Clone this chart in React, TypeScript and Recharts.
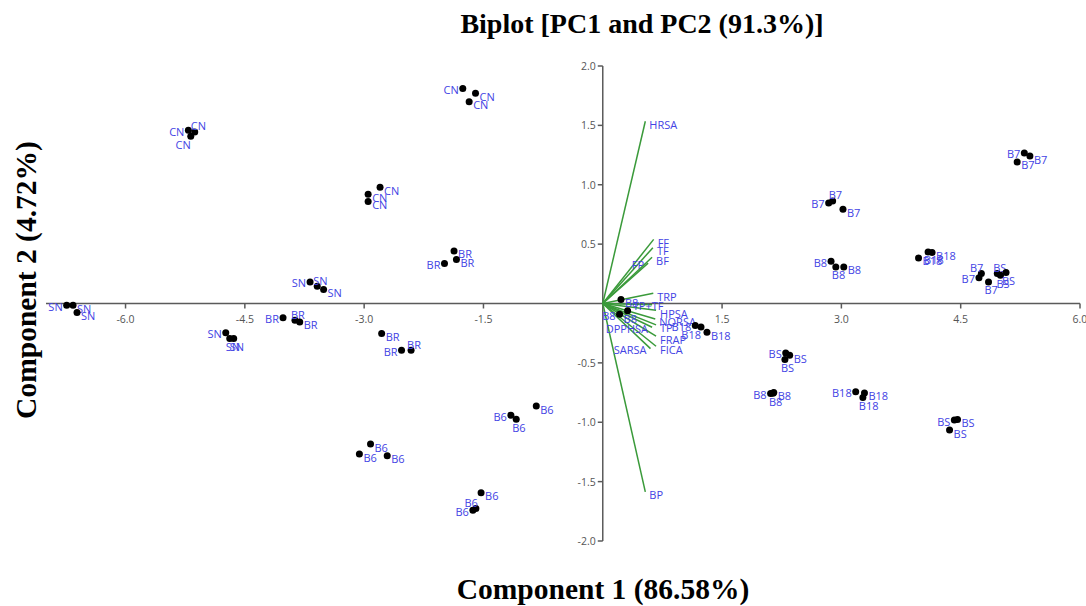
import { ScatterChart, Scatter, XAxis, YAxis, ReferenceLine } from "recharts"

// sample scores (PC1, PC2), three replicates per cluster
const SN = [[-6.74, -0.014], [-6.66, -0.014], [-6.61, -0.076], [-3.68, 0.182], [-3.59, 0.146], [-3.51, 0.118], [-4.74, -0.247], [-4.69, -0.295], [-4.64, -0.295]]
const CN = [[-5.21, 1.459], [-5.13, 1.445], [-5.18, 1.409], [-1.76, 1.81], [-1.6, 1.77], [-1.68, 1.7], [-2.8, 0.98], [-2.95, 0.92], [-2.95, 0.86]]
const BR = [[-4.02, -0.121], [-3.87, -0.141], [-3.81, -0.155], [-1.87, 0.443], [-1.99, 0.337], [-1.84, 0.37], [-2.78, -0.253], [-2.53, -0.393], [-2.41, -0.393]]
const B6 = [[-2.92, -1.184], [-3.06, -1.268], [-2.71, -1.283], [-1.155, -0.94], [-1.088, -0.974], [-0.836, -0.864], [-1.53, -1.594], [-1.595, -1.726], [-1.633, -1.74]]
const B7 = [[5.3, 1.268], [5.37, 1.242], [5.21, 1.192], [2.89, 0.864], [2.84, 0.847], [3.02, 0.794], [4.76, 0.253], [4.73, 0.216], [4.85, 0.182]]
const B8 = [[0.229, 0.034], [0.312, -0.062], [0.211, -0.09], [2.87, 0.356], [2.93, 0.308], [3.03, 0.308], [2.11, -0.758], [2.15, -0.749], [2.14, -0.755]]
const B18 = [[1.163, -0.185], [1.235, -0.197], [1.31, -0.242], [3.97, 0.384], [4.09, 0.434], [4.14, 0.429], [3.18, -0.744], [3.29, -0.753], [3.27, -0.791]]
const BS = [[4.96, 0.253], [5.0, 0.238], [5.07, 0.261], [2.3, -0.416], [2.35, -0.435], [2.29, -0.471], [4.42, -0.982], [4.46, -0.976], [4.36, -1.066]]

// which side of the dot the label sits on
const snSides = ["l", "r", "r", "l", "a", "r", "l", "b", "b"]
const cnSides = ["l", "a", "bl", "l", "r", "r", "r", "r", "r"]
const brSides = ["l", "a", "r", "r", "l", "r", "r", "l", "a"]
const b6Sides = ["r", "r", "r", "l", "b", "r", "r", "al", "l"]
const b7Sides = ["l", "r", "r", "a", "l", "r", "al", "l", "b"]
const b8Sides = ["r", "b", "l", "l", "b", "r", "l", "r", "b"]
const b18Sides = ["l", "bl", "r", "r", "b", "r", "l", "r", "b"]
const bsSides = ["a", "b", "b", "l", "r", "b", "l", "r", "r"]

// loading vectors
const loadingNames = ["HRSA", "FF", "TF", "BF", "FP", "TRP", "TP+TF", "HPSA", "NORSA", "TP", "FRAP", "FICA", "DPPHSA", "SARSA", "BP"]
const loadingX = [0.535, 0.64, 0.63, 0.62, 0.57, 0.635, 0.62, 0.67, 0.66, 0.67, 0.67, 0.67, 0.62, 0.6, 0.535]
const loadingY = [1.535, 0.54, 0.47, 0.39, 0.34, 0.087, -0.01, -0.056, -0.13, -0.18, -0.275, -0.36, -0.2, -0.38, -1.586]
const loadingSides = ["r", "r", "r", "r", "l", "r", "c", "r", "r", "r", "r", "r", "l", "l", "r"]

const xTicks = [-6, -4.5, -3, -1.5, 1.5, 3, 4.5, 6]
const yTicks = [-2, -1.5, -1, -0.5, 0.5, 1, 1.5, 2]

const groups: [string, number[][], string[]][] = [
  ["SN", SN, snSides],
  ["CN", CN, cnSides],
  ["BR", BR, brSides],
  ["B6", B6, b6Sides],
  ["B7", B7, b7Sides],
  ["B8", B8, b8Sides],
  ["B18", B18, b18Sides],
  ["BS", BS, bsSides],
]

const samples = groups.flatMap(([name, pts, sides]) =>
  pts.map((p, i) => ({ x: p[0], y: p[1], name, side: sides[i] }))
)
const loadings = loadingNames.map((name, i) => ({ x: loadingX[i], y: loadingY[i], name, side: loadingSides[i] }))

const BLUE = "#4343e4"
const GREEN = "#3a9a3a"
const AXIS = "#5a5a5a"
const labelFont = "'Open Sans', 'DejaVu Sans', sans-serif"

function labelPos(side: string, cx: number, cy: number) {
  switch (side) {
    case "l": return { x: cx - 4, y: cy + 1, anchor: "end" }
    case "a": return { x: cx - 4, y: cy - 6, anchor: "start" }
    case "al": return { x: cx + 2, y: cy - 6, anchor: "end" }
    case "b": return { x: cx - 4, y: cy + 8, anchor: "start" }
    case "bl": return { x: cx, y: cy + 8, anchor: "end" }
    case "c": return { x: cx - 4, y: cy + 1, anchor: "middle" }
    default: return { x: cx + 4, y: cy + 3, anchor: "start" }
  }
}

const SampleDot = (props: any) => {
  const { cx, cy, payload } = props
  const p = labelPos(payload.side, cx, cy)
  return (
    <g>
      <circle cx={cx} cy={cy} r={3.5} fill="#000" />
      <text x={p.x} y={p.y} textAnchor={p.anchor} dominantBaseline="central" fontSize={11} fill={BLUE} fontFamily={labelFont}>
        {payload.name}
      </text>
    </g>
  )
}

const LoadingLabel = (props: any) => {
  const { cx, cy, payload } = props
  const p = labelPos(payload.side, cx, cy)
  return (
    <text x={p.x} y={p.y} textAnchor={p.anchor} dominantBaseline="central" fontSize={11} fill={BLUE} fontFamily={labelFont}>
      {payload.name}
    </text>
  )
}

const XTick = (props: any) => {
  const { cx, cy, payload } = props
  return (
    <g>
      <line x1={cx} y1={cy} x2={cx} y2={cy + 5} stroke={AXIS} strokeWidth={1.5} />
      <text x={cx} y={cy + 15} textAnchor="middle" dominantBaseline="central" fontSize={10.5} fill="#555" fontFamily={labelFont}>
        {payload.label}
      </text>
    </g>
  )
}

const YTick = (props: any) => {
  const { cx, cy, payload } = props
  return (
    <g>
      <line x1={cx - 5} y1={cy} x2={cx} y2={cy} stroke={AXIS} strokeWidth={1.5} />
      <text x={cx - 7} y={cy} textAnchor="end" dominantBaseline="central" fontSize={10.5} fill="#555" fontFamily={labelFont}>
        {payload.label}
      </text>
    </g>
  )
}

export default function App() {
  const xTickData = xTicks.map((v) => ({ x: v, y: 0, label: v.toFixed(1) }))
  const yTickData = yTicks.map((v) => ({ x: 0, y: v, label: v.toFixed(1) }))
  const serif = "'Liberation Serif', 'Times New Roman', serif"

  return (
    <div style={{ position: "absolute", left: 0, top: 0, width: 1086, height: 606, background: "#fff" }}>
      <div style={{ position: "absolute", left: 342, top: 6, width: 600, textAlign: "center", fontFamily: serif, fontWeight: "bold", fontSize: 28, lineHeight: "36px" }}>
        Biplot [PC1 and PC2 (91.3%)]
      </div>
      <div style={{ position: "absolute", left: 303, top: 571, width: 600, textAlign: "center", fontFamily: serif, fontWeight: "bold", fontSize: 29.5, lineHeight: "36px" }}>
        Component 1 (86.58%)
      </div>
      <div style={{ position: "absolute", left: 26, top: 280, width: 0, height: 0 }}>
        <div style={{ position: "absolute", left: -200, top: -18, width: 400, textAlign: "center", transform: "rotate(-90deg)", fontFamily: serif, fontWeight: "bold", fontSize: 29.5, lineHeight: "36px", whiteSpace: "nowrap" }}>
          Component 2 (4.72%)
        </div>
      </div>
      <ScatterChart width={1086} height={606} margin={{ top: 66, right: 6, bottom: 65, left: 46 }} style={{ position: "absolute", left: 0, top: 0, overflow: "visible" }}>
        <XAxis type="number" dataKey="x" domain={[-7, 6]} hide />
        <YAxis type="number" dataKey="y" domain={[-2, 2]} hide />
        <ReferenceLine y={0} stroke={AXIS} strokeWidth={1.5} />
        <ReferenceLine x={0} stroke={AXIS} strokeWidth={1.5} />
        {loadings.map((l) => (
          <ReferenceLine key={l.name} segment={[{ x: 0, y: 0 }, { x: l.x, y: l.y }]} stroke={GREEN} strokeWidth={1.5} />
        ))}
        <Scatter data={xTickData} shape={XTick} isAnimationActive={false} />
        <Scatter data={yTickData} shape={YTick} isAnimationActive={false} />
        <Scatter data={loadings} shape={LoadingLabel} isAnimationActive={false} />
        <Scatter data={samples} shape={SampleDot} isAnimationActive={false} />
      </ScatterChart>
    </div>
  )
}
